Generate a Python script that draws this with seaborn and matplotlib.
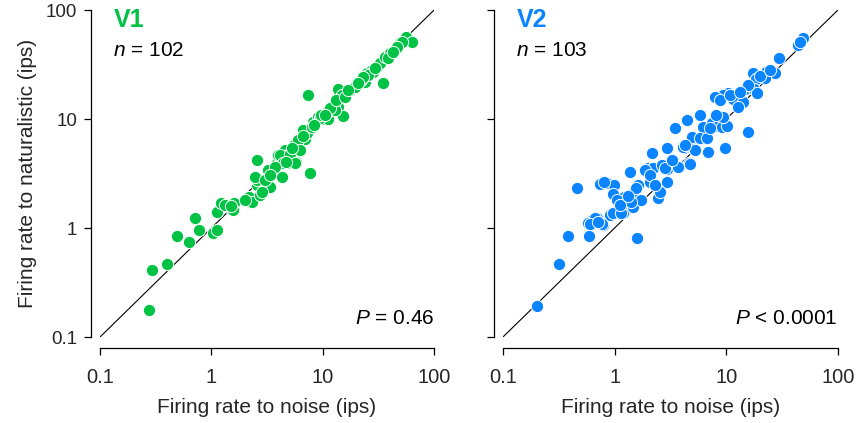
import numpy as np
import pandas as pd
import matplotlib
matplotlib.use("Agg")
import matplotlib.pyplot as plt
import seaborn as sns

# Firing rates (ips) of single units: noise (x) vs naturalistic (y)
v1_noise = [0.275, 0.293, 0.400, 0.492, 0.630, 0.713, 0.774, 1.035, 1.124, 1.124,
            1.22, 1.44, 1.60, 1.57, 2.18, 2.32, 2.57, 2.74, 2.57, 3.23,
            2.57, 3.23, 3.89, 4.31, 3.97, 4.59, 4.99, 4.79, 5.76, 5.53,
            6.26, 6.94, 7.23, 7.69, 7.38, 3.37, 6.66, 8.19, 9.08, 10.07,
            11.2, 10.9, 12.1, 13.7, 15.2, 14.3, 13.7, 16.5, 18.7, 19.9,
            24.0, 34.8, 12.9, 17.6, 19.5, 22.1, 25.0, 27.7, 30.8, 32.7,
            36.3, 40.3, 44.7, 49.5, 56.1, 63.4, 51.6, 46.6, 28.3, 25.5,
            23.0, 14.9, 11.6, 9.46, 6.00, 4.14, 4.40, 3.73, 2.47, 5.09,
            1.33, 8.02, 5.65, 2.85, 2.00, 6.26, 8.36, 13.2, 20.8, 38.6,
            15.9, 9.66, 4.69, 3.03, 1.50, 42.8, 29.5, 5.31, 6.66, 10.5,
            16.9, 3.37]
v1_natural = [0.177, 0.412, 0.468, 0.845, 0.745, 1.24, 0.96, 0.90, 0.96, 1.40,
              1.70, 1.56, 1.70, 1.46, 1.92, 1.73, 2.48, 2.01, 2.76, 2.33,
              4.21, 3.41, 3.95, 2.94, 4.67, 5.20, 4.77, 3.95, 4.03, 5.77,
              6.02, 6.56, 7.44, 3.20, 16.6, 2.38, 7.93, 9.38, 10.4, 10.0,
              10.0, 11.6, 12.6, 12.9, 10.7, 16.9, 18.8, 17.7, 19.2, 20.5,
              21.8, 21.4, 12.1, 18.5, 19.7, 22.8, 26.4, 28.2, 30.0, 32.6,
              37.1, 40.3, 43.0, 49.8, 56.5, 50.8, 50.8, 45.8, 27.0, 25.3,
              24.3, 16.6, 12.6, 10.2, 6.41, 4.67, 3.95, 3.63, 2.94, 4.77,
              1.63, 8.45, 3.95, 2.14, 1.81, 5.20, 8.81, 14.9, 21.4, 36.3,
              15.9, 10.9, 4.03, 2.76, 1.59, 41.2, 29.4, 5.42, 6.98, 10.9,
              18.5, 3.06]

v2_noise = [0.201, 0.317, 0.382, 0.589, 1.585, 0.460, 0.627, 0.577, 0.695, 0.785,
            0.740, 0.853, 0.986, 0.966, 0.908, 0.986, 1.19, 1.21, 1.24, 1.46,
            1.46, 1.62, 1.72, 1.37, 1.99, 2.07, 2.16, 0.667, 0.966, 2.20,
            2.65, 2.55, 2.44, 2.94, 2.94, 2.94, 3.77, 4.63, 4.18, 5.13,
            5.69, 6.85, 3.47, 4.44, 4.92, 5.81, 6.18, 7.44, 8.42, 48.6,
            43.8, 29.6, 17.3, 22.6, 27.3, 22.2, 18.4, 14.7, 17.7, 18.8,
            10.4, 9.33, 7.91, 8.77, 11.5, 14.1, 12.7, 9.14, 10.1, 9.33,
            15.6, 9.73, 5.81, 4.09, 6.71, 45.7, 0.601, 0.771, 1.14, 2.55,
            2.82, 3.69, 4.73, 1.87, 1.40, 0.802, 1.05, 1.55, 2.07, 3.26,
            5.24, 7.14, 15.6, 20.0, 24.6, 10.8, 4.26, 1.12, 0.710, 2.30,
            8.08, 13.2, 1.32]
v2_natural = [0.192, 0.468, 0.845, 0.845, 0.809, 2.33, 1.18, 1.11, 1.24, 1.07,
              2.53, 2.59, 2.48, 2.05, 1.32, 1.40, 1.37, 1.92, 1.70, 2.09,
              1.56, 2.48, 1.81, 3.26, 3.55, 2.64, 4.88, 1.24, 1.37, 3.55,
              3.78, 2.33, 1.88, 2.64, 3.48, 5.42, 3.63, 3.95, 5.42, 5.54,
              6.56, 4.98, 8.27, 9.79, 6.84, 10.9, 8.45, 9.19, 8.63, 55.3,
              47.8, 36.3, 26.4, 27.0, 26.4, 23.8, 23.3, 18.8, 18.8, 17.3,
              17.3, 16.6, 15.9, 14.9, 15.3, 14.3, 12.9, 8.45, 8.63, 10.4,
              7.60, 5.42, 6.70, 5.54, 6.70, 50.8, 1.09, 1.09, 1.37, 2.14,
              3.55, 3.63, 3.86, 3.41, 1.73, 2.64, 1.81, 2.33, 3.06, 4.21,
              5.20, 8.27, 20.5, 24.8, 28.2, 16.6, 5.77, 1.63, 1.14, 2.48,
              10.9, 17.7, 1.97]

areas = ["V1", "V2"]
counts = ["102", "103"]
p_labels = [r"$P$ = 0.46", r"$P$ < 0.0001"]
area_colors = ["#00C244", "#0A84FF"]
tick_values = [0.1, 1, 10, 100]
tick_labels = ["0.1", "1", "10", "100"]

sns.set_theme(style="ticks")
plt.rcParams["font.family"] = ["Liberation Sans", "DejaVu Sans"]
plt.rcParams["mathtext.fontset"] = "custom"
plt.rcParams["mathtext.rm"] = "Liberation Sans"
plt.rcParams["mathtext.it"] = "Liberation Sans:italic"

df = pd.concat([
    pd.DataFrame({"noise": v1_noise, "natural": v1_natural, "area": "V1"}),
    pd.DataFrame({"noise": v2_noise, "natural": v2_natural, "area": "V2"}),
])

fig = plt.figure(figsize=(8.58, 4.23), dpi=100)
ax_pos = [[0.1166, 0.2033, 0.3893, 0.7730], [0.5862, 0.2033, 0.3904, 0.7730]]

for i, area in enumerate(areas):
    ax = fig.add_axes(ax_pos[i])
    sub = df[df["area"] == area]
    ax.plot([0.1, 100], [0.1, 100], color="black", lw=0.8, zorder=1)
    sns.scatterplot(data=sub, x="noise", y="natural", ax=ax, color=area_colors[i],
                    s=78, edgecolor="white", linewidth=0.7, zorder=2, clip_on=False,
                    legend=False)
    ax.set_xscale("log")
    ax.set_yscale("log")
    ax.set_xlim(0.1, 100)
    ax.set_ylim(0.1, 100)
    ax.set_xticks(tick_values)
    ax.set_xticklabels(tick_labels)
    ax.set_yticks(tick_values)
    ax.minorticks_off()
    if i == 0:
        ax.set_yticklabels(tick_labels)
        ax.set_ylabel("Firing rate to naturalistic (ips)", fontsize=15, labelpad=6)
    else:
        ax.set_yticklabels([])
        ax.set_ylabel("")
    ax.set_xlabel("Firing rate to noise (ips)", fontsize=15, labelpad=8)
    ax.tick_params(axis="x", length=5, width=0.9, pad=9, labelsize=14.5, color="black")
    ax.tick_params(axis="y", length=5, width=0.9, pad=5, labelsize=13.5, color="black")
    for side in ["top", "right"]:
        ax.spines[side].set_visible(False)
    ax.spines["left"].set_position(("outward", 6.5))
    ax.spines["bottom"].set_position(("outward", 8))
    ax.spines["left"].set_bounds(0.1, 100)
    ax.spines["bottom"].set_bounds(0.1, 100)
    for side in ["left", "bottom"]:
        ax.spines[side].set_linewidth(0.9)
        ax.spines[side].set_color("black")
    ax.set_facecolor("white")

    ax.text(0.04, 0.968, area, transform=ax.transAxes, fontsize=18, fontweight="bold",
            color=area_colors[i], ha="left", va="center")
    ax.text(0.04, 0.875, r"$n$ = " + counts[i], transform=ax.transAxes, fontsize=15,
            color="black", ha="left", va="center")
    ax.text(1.0, 0.058, p_labels[i], transform=ax.transAxes, fontsize=15,
            color="black", ha="right", va="center")

fig.savefig("out.png", dpi=100, facecolor="white")
